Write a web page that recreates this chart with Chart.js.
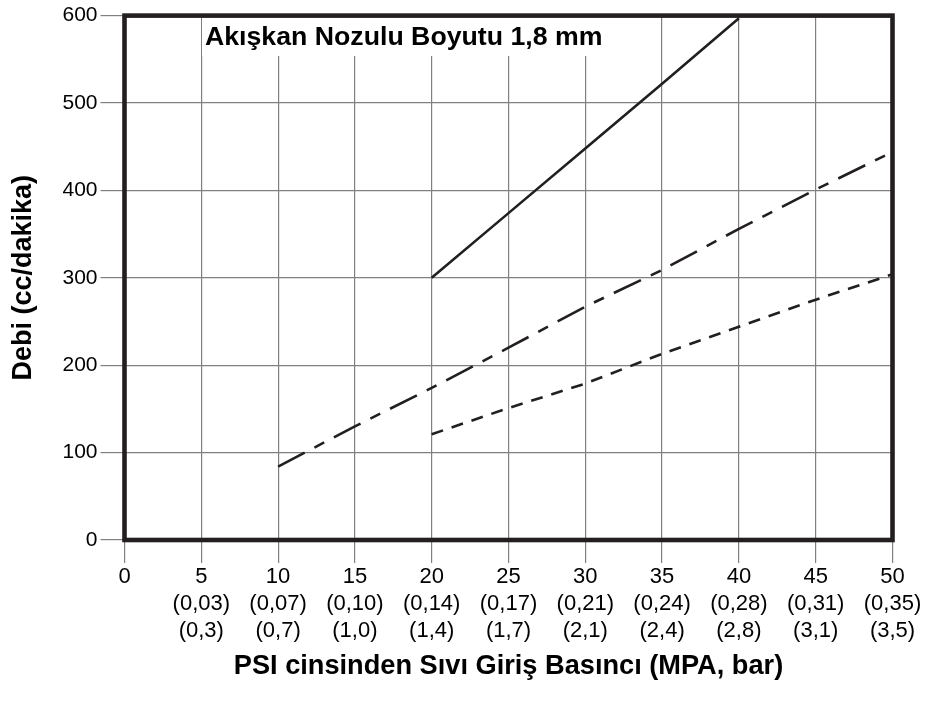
<!DOCTYPE html>
<html>
<head>
<meta charset="utf-8">
<script src="https://cdn.jsdelivr.net/npm/chart.js@4.4.0/dist/chart.umd.min.js"></script>
<style>
  html, body { margin: 0; padding: 0; background: #fff; }
  canvas { display: block; }
</style>
</head>
<body>
<canvas id="chart0" width="937" height="702"></canvas>
<script>
let ctx = document.getElementById("chart0").getContext("2d");

// x axis: psi with MPa and bar underneath
const psiTicks = [0, 5, 10, 15, 20, 25, 30, 35, 40, 45, 50];
const mpaLabels = ["", "(0,03)", "(0,07)", "(0,10)", "(0,14)", "(0,17)", "(0,21)", "(0,24)", "(0,28)", "(0,31)", "(0,35)"];
const barLabels = ["", "(0,3)", "(0,7)", "(1,0)", "(1,4)", "(1,7)", "(2,1)", "(2,4)", "(2,8)", "(3,1)", "(3,5)"];

// flow (cc/min) against inlet pressure (psi)
const solidPsi = [20, 25, 30, 35, 40];
const solidFlow = [300, 374, 448, 522, 597];
const dashDotPsi = [10, 15, 20, 25, 30, 35, 40, 45, 50];
const dashDotFlow = [84, 130, 174, 220, 267, 309, 356, 401, 444];
const dashPsi = [20, 25, 30, 35, 40, 45, 50];
const dashFlow = [121, 151, 179, 213, 244, 275, 304];

const titleText = "Akışkan Nozulu Boyutu 1,8 mm";
const xTitle = "PSI cinsinden Sıvı Giriş Basıncı (MPA, bar)";
const yTitle = "Debi (cc/dakika)";

const ink = "#231f20";
const gridGray = "#808080";
const FONT = "'Liberation Sans', Arial, Helvetica, sans-serif";

function toPoints(xs, ys) {
  return xs.map((x, i) => ({ x: x, y: ys[i] }));
}

function lineSet(xs, ys, dash) {
  return {
    data: toPoints(xs, ys),
    borderColor: ink,
    borderWidth: 2.6,
    borderDash: dash,
    borderCapStyle: "butt",
    pointRadius: 0,
    tension: 0,
    fill: false
  };
}

// heavy frame around the plot area
const framePlugin = {
  id: "frame",
  afterDraw(chart) {
    const a = chart.chartArea;
    const c = chart.ctx;
    c.save();
    c.strokeStyle = ink;
    c.lineWidth = 4.6;
    c.strokeRect(a.left, a.top, a.right - a.left, a.bottom - a.top);
    c.restore();
  }
};

// nozzle size label on a white patch in the upper left
const nozzleLabel = {
  id: "nozzleLabel",
  beforeDatasetsDraw(chart) {
    const c = chart.ctx;
    c.save();
    c.fillStyle = "#fff";
    c.fillRect(202, 15, 406, 41);
    c.fillStyle = "#000";
    c.font = "bold 26.7px " + FONT;
    c.textBaseline = "alphabetic";
    c.textAlign = "left";
    c.fillText(titleText, 205, 44.5);
    c.restore();
  }
};

let chart = new Chart(ctx, {
  type: "line",
  data: {
    datasets: [
      lineSet(solidPsi, solidFlow, []),
      lineSet(dashDotPsi, dashDotFlow, [30, 11, 11, 11]),
      lineSet(dashPsi, dashFlow, [12, 9])
    ]
  },
  options: {
    responsive: false,
    animation: false,
    devicePixelRatio: 1,
    layout: { padding: { left: 0, right: 44.5, top: 12.5, bottom: 0 } },
    plugins: {
      legend: { display: false },
      tooltip: { enabled: false }
    },
    scales: {
      x: {
        type: "linear",
        min: 0,
        max: 50,
        afterFit: s => { s.height = 162; },
        border: { display: false },
        grid: { color: gridGray, tickColor: gridGray, lineWidth: 1.2, tickLength: 23 },
        ticks: {
          stepSize: 5,
          padding: 0,
          color: "#000",
          maxRotation: 0,
          autoSkip: false,
          font: { family: FONT, size: 22, lineHeight: 1.23 },
          callback: function(value) {
            let i = psiTicks.indexOf(value);
            if (i <= 0) return String(value);
            return [String(value), mpaLabels[i], barLabels[i]];
          }
        },
        title: {
          display: true,
          text: xTitle,
          color: "#000",
          font: { family: FONT, size: 27.2, weight: "bold", lineHeight: 1.2 },
          padding: { top: 0, bottom: 19 }
        }
      },
      y: {
        min: 0,
        max: 600,
        afterFit: s => { s.width = 124.5; },
        border: { display: false },
        grid: { color: gridGray, tickColor: gridGray, lineWidth: 1.2, tickLength: 24 },
        ticks: {
          stepSize: 100,
          padding: 3,
          color: "#000",
          font: { family: FONT, size: 21 }
        },
        title: {
          display: true,
          text: yTitle,
          color: "#000",
          font: { family: FONT, size: 27, weight: "bold", lineHeight: 1.2 },
          padding: { top: 7, bottom: 0 }
        }
      }
    }
  },
  plugins: [nozzleLabel, framePlugin]
});
</script>
</body>
</html>
